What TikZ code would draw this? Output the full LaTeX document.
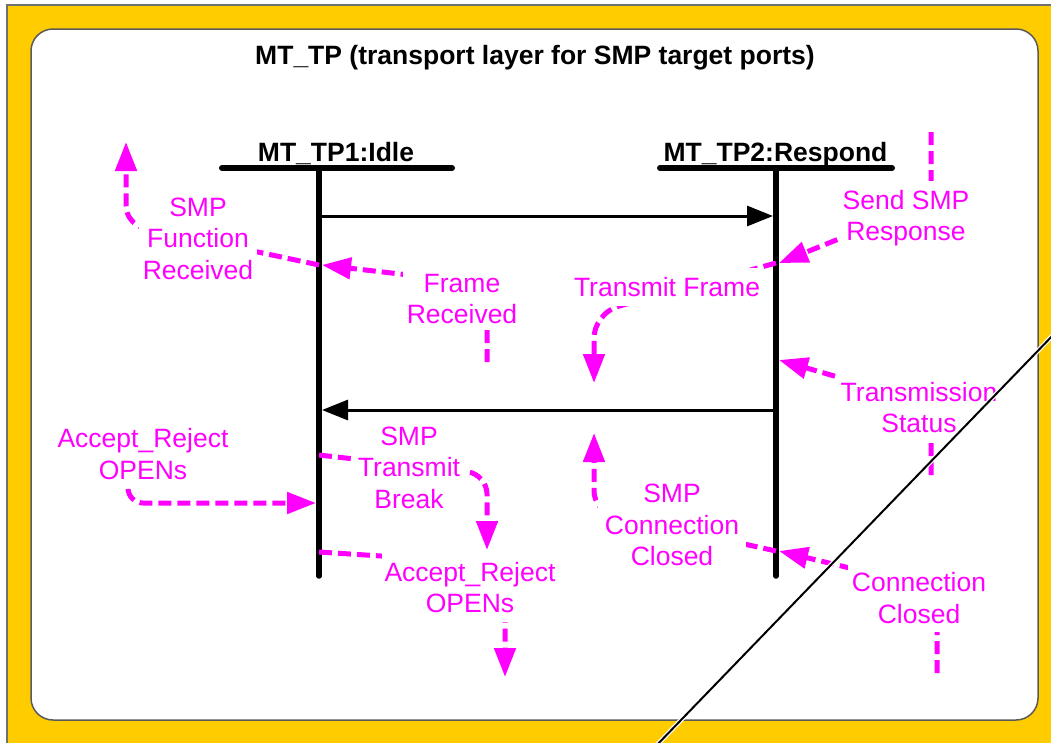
\documentclass[tikz,border=0pt]{standalone}
\usepackage{fontspec}
\setmainfont{Liberation Sans}
\usetikzlibrary{arrows.meta}
\definecolor{frameyellow}{HTML}{FFCC00}
\definecolor{framegray}{HTML}{707070}
\definecolor{sigmag}{HTML}{FF00FF}
\begin{document}
\begin{tikzpicture}[x=1pt,y=-1pt,
  font=\fontsize{26.5}{31.5}\selectfont,
  lifeline/.style={line width=5.5pt,line cap=round},
  headbar/.style={line width=6pt,line cap=round},
  msg/.style={line width=3pt,-{Triangle[length=26pt,width=20pt]}},
  sigline/.style={draw=sigmag,line width=5pt,dash pattern=on 13pt off 6pt},
  sig/.style={sigline,-{Triangle[length=29pt,width=21pt]}},
  siglabel/.style={text=sigmag,fill=white,align=center,inner xsep=4pt,inner ysep=9pt},
  statelabel/.style={font=\fontsize{26.5}{31.5}\selectfont\bfseries,anchor=base}
]
\useasboundingbox (0,0) rectangle (1051,742);
\clip (0,0) rectangle (1051,742);
\fill[white] (0,0) rectangle (1051,742);
% frame
\filldraw[fill=frameyellow,draw=framegray,line width=1.5pt] (7,5) rectangle (1070,760);
\filldraw[fill=white,draw=framegray!80!black,line width=1.5pt,rounded corners=22pt] (31,29) rectangle (1038,720);
% title
\node[statelabel] (title) at (535,64.5) {MT\_TP (transport layer for SMP target ports)};
% states
\node[statelabel] (s1) at (336,161) {MT\_TP1:Idle};
\node[statelabel] (s2) at (775.5,161) {MT\_TP2:Respond};
\coordinate (b1l) at (222,168); \coordinate (b1r) at (452,168);
\coordinate (b2l) at (660,168); \coordinate (b2r) at (892,168);
\draw[headbar] (b1l) -- (b1r);
\draw[headbar] (b2l) -- (b2r);
\coordinate (L1top) at (319,168); \coordinate (L1bot) at (319,576);
\coordinate (L2top) at (776,168); \coordinate (L2bot) at (776,576);
\draw[lifeline] (L1top) -- (L1bot);
\draw[lifeline] (L2top) -- (L2bot);
% messages
\coordinate (m1s) at (319,216); \coordinate (m1e) at (773,216);
\coordinate (m2s) at (776,410); \coordinate (m2e) at (322,410);
\draw[msg] (m1s) -- (m1e);
\draw[msg] (m2s) -- (m2e);
% signal attachment points
\coordinate (a1) at (319,265);
\coordinate (a1in) at (322,265);
\coordinate (a2) at (776,263);
\coordinate (a2in) at (779,263);
\coordinate (a3in) at (779,360);
\coordinate (a4) at (319,455);
\coordinate (a5in) at (316,503);
\coordinate (a6) at (319,552);
\coordinate (a7) at (776,551);
\coordinate (a7in) at (779,551);
% free ends
\coordinate (fnup) at (126,142);
\coordinate (frsrc) at (487,362);
\coordinate (sssrc) at (931,132);
\coordinate (tfdown) at (594,383);
\coordinate (tssrc) at (931,475);
\coordinate (alsrc) at (128,470);
\coordinate (tbdown) at (487,550);
\coordinate (ardown) at (505,677);
\coordinate (ccsrc) at (937,673);
\coordinate (scup) at (594,433);
% signals
\draw[sig,rounded corners=18pt] (a1) -- (126,224) -- (fnup);
\draw[sig] (frsrc) -- (487,284) -- (a1in);
\draw[sig] (sssrc) -- (931,202) -- (a2in);
\draw[sig,rounded corners=25pt] (a2) -- (594,313) -- (tfdown);
\draw[sig] (tssrc) -- (931,404) -- (a3in);
\draw[sig,rounded corners=15pt] (alsrc) -- (128,503) -- (a5in);
\draw[sig,rounded corners=20pt] (a4) -- (487,474) -- (tbdown);
\draw[sig,rounded corners=10pt] (a6) -- (505,564) -- (ardown);
\draw[sig] (ccsrc) -- (937,589) -- (a7in);
\draw[sig,rounded corners=20pt] (a7) -- (594,511) -- (scup);
% signal labels
\node[siglabel] (fnrecv) at (198,238.5) {SMP\\Function\\Received};
\node[siglabel,inner ysep=6pt] (framerecv) at (462,299) {Frame\\Received};
\node[siglabel,inner xsep=3pt] (sendsmp) at (906,218) {Send SMP\\Response};
\node[siglabel] (txframe) at (667,287) {Transmit Frame};
\node[siglabel,inner xsep=5pt] (txstatus) at (919,407.5) {Transmission\\Status};
\node[siglabel] (accl) at (143,454) {Accept\_Reject\\OPENs};
\node[siglabel,inner xsep=5pt] (txbreak) at (409,467.5) {SMP\\Transmit\\Break};
\node[siglabel,inner xsep=3pt] (accr) at (470,587.5) {Accept\_Reject\\OPENs};
\node[siglabel,inner xsep=7pt] (smpcc) at (672,525) {SMP\\Connection\\Closed};
\node[siglabel] (cc) at (919,598) {Connection\\Closed};
% diagonal line
\coordinate (dg1) at (653,749); \coordinate (dg2) at (1057,331);
\draw[white,line width=4.5pt] (dg1) -- (dg2);
\draw[black,line width=2pt] (dg1) -- (dg2);
\end{tikzpicture}
\end{document}
